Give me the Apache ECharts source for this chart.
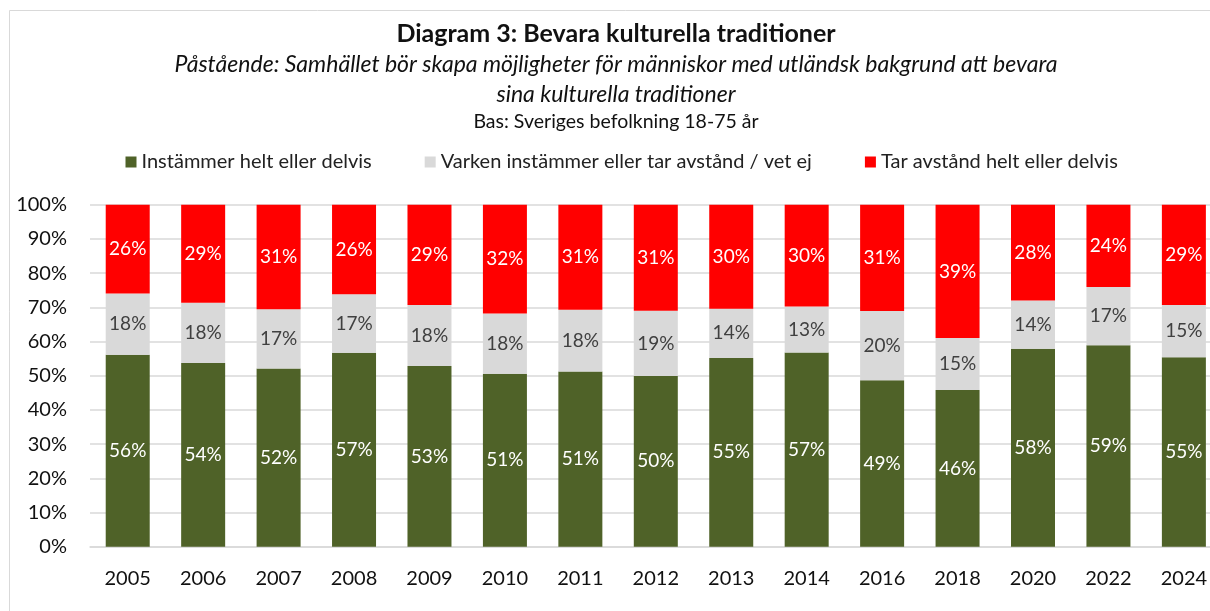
<!DOCTYPE html>
<html>
<head>
<meta charset="utf-8">
<script src="https://cdn.jsdelivr.net/npm/echarts@6/dist/echarts.min.js"></script>
<style>
  html, body { margin: 0; padding: 0; background: #fff; overflow: hidden; }
  /* the original chart runs a bit past the right edge of the picture */
  #chart { width: 1240px; height: 611px; }
</style>
</head>
<body>
<div id="chart"></div>
<script>
// years on the x axis
const years = ["2005", "2006", "2007", "2008", "2009", "2010", "2011", "2012", "2013", "2014", "2016", "2018", "2020", "2022", "2024"];
// share in percent
const agree = [56.1, 53.7, 52.1, 56.7, 52.8, 50.6, 51.2, 49.9, 55.2, 56.8, 48.7, 45.8, 57.9, 58.9, 55.4];
const neither = [17.9, 17.6, 17.3, 17.1, 17.9, 17.6, 18.1, 19.1, 14.4, 13.4, 20.2, 15.2, 14.1, 17.0, 15.3];
const disagree = [26.0, 28.7, 30.6, 26.2, 29.3, 31.8, 30.7, 31.0, 30.4, 29.8, 31.1, 39.0, 28.0, 24.1, 29.3];
const seriesNames = ["Instämmer helt eller delvis", "Varken instämmer eller tar avstånd / vet ej", "Tar avstånd helt eller delvis"];

const font = "Lato, 'Open Sans', sans-serif";
const myChart = echarts.init(document.getElementById("chart"));

function stackSeries(name, data, color, labelColor) {
  return {
    name: name,
    type: "bar",
    stack: "total",
    barWidth: 44,
    data: data,
    itemStyle: { color: color },
    label: {
      show: true,
      position: "inside",
      color: labelColor,
      fontFamily: font,
      fontSize: 19,
      formatter: (p) => Math.round(p.value) + "%",
    },
  };
}

const option = {
  animation: false,
  backgroundColor: "#fff",
  textStyle: { fontFamily: font },
  graphic: [
    {
      type: "rect",
      shape: { x: 9.5, y: 10.5, width: 1400, height: 800 },
      style: { fill: "none", stroke: "#d9d9d9", lineWidth: 1 },
      silent: true,
    },
  ],
  title: [
    {
      text: "Diagram 3: Bevara kulturella traditioner",
      left: 616, top: 21, padding: 0, textAlign: "center",
      textStyle: { fontFamily: font, fontSize: 25, fontWeight: "bold", color: "#111" },
    },
    {
      text: "Påstående: Samhället bör skapa möjligheter för människor med utländsk bakgrund att bevara\nsina kulturella traditioner",
      left: 616, top: 50, padding: 0, textAlign: "center",
      textStyle: { fontFamily: font, fontSize: 23, fontStyle: "italic", fontWeight: "normal", color: "#111", lineHeight: 30 },
    },
    {
      text: "Bas: Sveriges befolkning 18-75 år",
      left: 616, top: 112, padding: 0, textAlign: "center",
      textStyle: { fontFamily: font, fontSize: 19.5, fontWeight: "normal", color: "#111" },
    },
  ],
  legend: {
    top: 152,
    left: 125.5,
    padding: 0,
    itemWidth: 11,
    itemHeight: 11,
    itemGap: 53,
    itemTextGap: 6,
    icon: "rect",
    textStyle: { fontFamily: font, fontSize: 20, color: "#222" },
    data: seriesNames,
  },
  grid: {
    left: 90,
    top: 204.7,
    width: 1131.6,
    height: 342,
    containLabel: false,
    outerBoundsMode: "none",
  },
  xAxis: {
    type: "category",
    data: years,
    axisTick: { show: false },
    axisLine: { lineStyle: { color: "#d9d9d9", width: 1.5 } },
    axisLabel: { color: "#111", fontFamily: font, fontSize: 20, margin: 22 },
  },
  yAxis: {
    type: "value",
    min: 0,
    max: 100,
    interval: 10,
    axisLabel: { color: "#111", fontFamily: font, fontSize: 20, margin: 23, formatter: "{value}%" },
    splitLine: { lineStyle: { color: "#d9d9d9", width: 1.5 } },
  },
  series: [
    stackSeries(seriesNames[0], agree, "#4f6228", "#fff"),
    stackSeries(seriesNames[1], neither, "#d9d9d9", "#404040"),
    stackSeries(seriesNames[2], disagree, "#ff0000", "#fff"),
  ],
};

myChart.setOption(option);
</script>
</body>
</html>
